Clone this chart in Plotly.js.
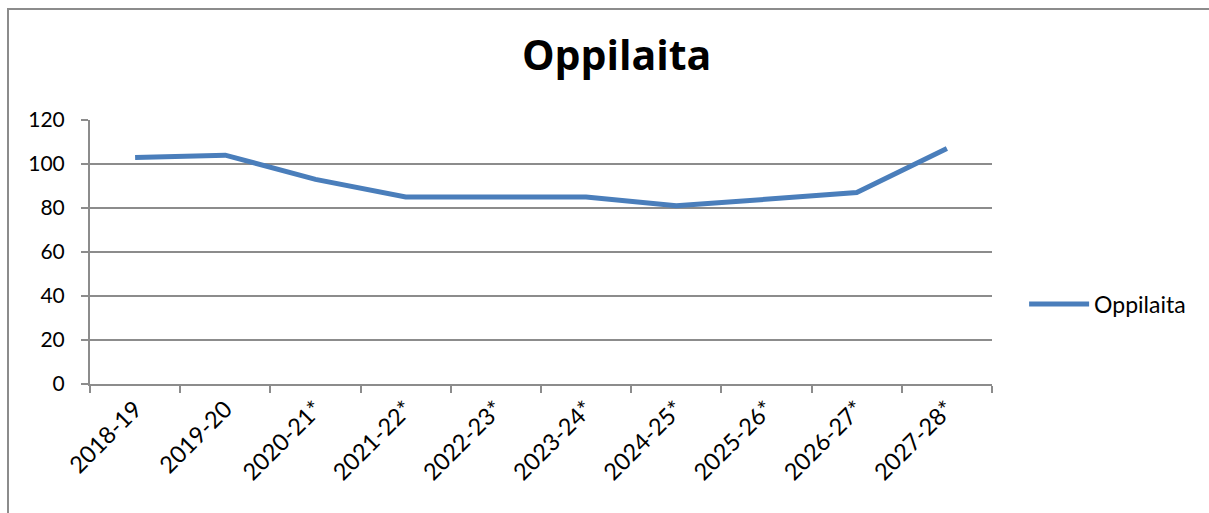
<!DOCTYPE html>
<html>
<head>
<meta charset="utf-8">
<script src="https://cdn.plot.ly/plotly-3.0.1.min.js"></script>
<style>
html,body{margin:0;padding:0;background:#fff;}
#wrap{position:absolute;left:0;top:0;width:1209px;height:513px;}
#frame{position:absolute;left:7px;top:8px;width:1202px;height:505px;border-left:2px solid #8c8c8c;border-top:2px solid #8c8c8c;box-sizing:border-box;pointer-events:none;}
#chart{width:1209px;height:513px;}
</style>
</head>
<body>
<div id="wrap"><div id="chart"></div><div id="frame"></div></div>
<script>
const categories = ["2018-19","2019-20","2020-21*","2021-22*","2022-23*","2023-24*","2024-25*","2025-26*","2026-27*","2027-28*"];
const oppilaita = [103,104,93,85,85,85,81,84,87,107];
const seriesName = "Oppilaita";
const yTicks = [0,20,40,60,80,100,120];

const font = "Lato, 'Open Sans', sans-serif";
const trace = {
  x: categories, y: oppilaita, type: "scatter", mode: "lines", name: seriesName,
  line: {color: "#4a7ebb", width: 5}
};
const layout = {
  width: 1209, height: 513,
  margin: {l: 90, r: 217, t: 120, b: 129},
  paper_bgcolor: "#fff", plot_bgcolor: "#fff",
  title: {text: "<b>Oppilaita</b>", font: {family: "'Open Sans', sans-serif", size: 41, color: "#000"},
          x: 0.51, xref: "container", xanchor: "center", y: 0.892, yref: "container", yanchor: "middle"},
  showlegend: true,
  legend: {x: 1.0356, xanchor: "left", y: 0.303, yanchor: "middle", font: {family: font, size: 23, color: "#000"}, itemwidth: 60},
  xaxis: {
    type: "category", tickangle: -45, tickfont: {family: font, size: 23.5, color: "#000"},
    showline: true, linecolor: "#8c8c8c", linewidth: 2, showgrid: false,
    ticks: "outside", ticklen: 7, tickcolor: "#8c8c8c", tickwidth: 2, tickson: "boundaries",
    range: [-0.5, 9.5], zeroline: false
  },
  yaxis: {
    range: [0, 120], tickvals: yTicks, tickfont: {family: font, size: 21, color: "#000"},
    showline: true, linecolor: "#8c8c8c", linewidth: 2,
    showgrid: true, gridcolor: "#8c8c8c", gridwidth: 2,
    ticks: "outside", ticklen: 7, tickcolor: "#8c8c8c", tickwidth: 2,
    ticklabelstandoff: 12, zeroline: false
  }
};
Plotly.newPlot("chart", [trace], layout, {displayModeBar: false, staticPlot: true});
</script>
</body>
</html>
